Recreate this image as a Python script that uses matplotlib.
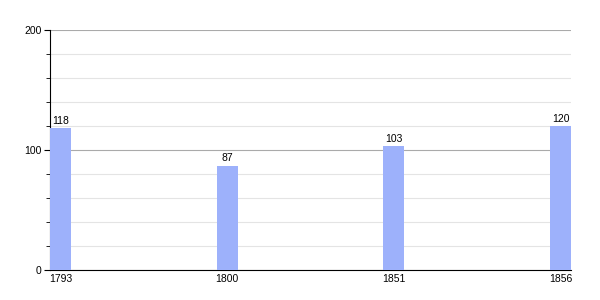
import matplotlib
matplotlib.use("Agg")
import matplotlib.pyplot as plt
import numpy as np

years = ["1793", "1800", "1851", "1856"]
population = [118, 87, 103, 120]

plt.rcParams["font.family"] = ["Liberation Sans", "DejaVu Sans"]

fig = plt.figure(figsize=(6, 3), dpi=100)
ax = fig.add_axes([50 / 600, 0.1, 521 / 600, 0.8])

w = 0.126
x = np.arange(len(years))
ax.bar(x, population, width=w, align="edge", color="#9db1fb", zorder=3)
for xi, v in zip(x, population):
    ax.text(xi + w / 2, v + 2, str(v), ha="center", va="bottom", fontsize=7.5, zorder=4)

ax.set_xlim(0, len(years) - 1 + w)
ax.set_ylim(0, 200)
ax.set_xticks(x + w / 2)
ax.set_xticklabels(years, fontsize=7.5)
ax.tick_params(axis="x", length=0, pad=3)

ax.set_yticks([0, 100, 200])
ax.set_yticks(np.arange(20, 200, 20), minor=True)
ax.tick_params(axis="y", which="major", labelsize=7.5, length=4, pad=2)
ax.tick_params(axis="y", which="minor", length=3)

ax.grid(axis="y", which="major", color="#aaaaaa", linewidth=0.8, zorder=0)
ax.grid(axis="y", which="minor", color="#e4e4e4", linewidth=0.8, zorder=0)

for s in ("top", "right"):
    ax.spines[s].set_visible(False)
ax.spines["left"].set_linewidth(0.8)
ax.spines["bottom"].set_linewidth(0.8)

fig.savefig("out.png", dpi=100)
